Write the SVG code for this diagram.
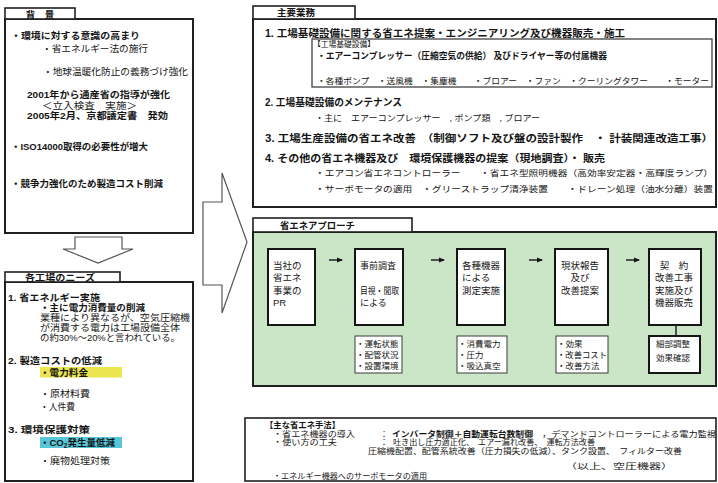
<svg xmlns="http://www.w3.org/2000/svg" width="718" height="483" viewBox="0 0 718 483" font-size="10">
<defs>
<style>
text{font-family:"Liberation Sans","Noto Sans CJK JP",sans-serif;fill:#151515}
.b{font-weight:bold}
.box{fill:#fff;stroke:#202020;stroke-width:2}
.tab{fill:#fff;stroke:#202020;stroke-width:1.6}
.fb{fill:#fff;stroke:#151515;stroke-width:2}
.sb{fill:#fff;stroke:#3a3a3a;stroke-width:1}
.big{fill:#fff;stroke:#555;stroke-width:1.2}
.con{stroke:#151515;stroke-width:1.4;fill:none}
</style>
<marker id="ah" markerWidth="6" markerHeight="6" refX="5" refY="3" orient="auto" markerUnits="userSpaceOnUse">
<path d="M0,0.5 L6,3 L0,5.5 Z" fill="#151515"/>
</marker>
</defs>
<rect width="718" height="483" fill="#fff"/>

<g id="haikei">
<rect class="box" x="5" y="19" width="188" height="214"/>
<rect class="tab" x="5" y="8" width="70" height="11"/>
<text class="b" x="40" y="17.5" font-size="9.5" text-anchor="middle">背　景</text>
<text class="b" x="11" y="38.5" font-size="9.5" textLength="129" lengthAdjust="spacingAndGlyphs">・環境に対する意識の高まり</text>
<text x="42" y="52" font-size="9.5" textLength="106" lengthAdjust="spacingAndGlyphs">・省エネルギー法の施行</text>
<text x="43" y="74.5" font-size="9.5" textLength="145" lengthAdjust="spacingAndGlyphs">・地球温暖化防止の義務づけ強化</text>
<text class="b" x="27" y="98" font-size="9.5" textLength="143" lengthAdjust="spacingAndGlyphs">2001年から通産省の指導が強化</text>
<text x="42" y="108.5" font-size="9.5" textLength="95" lengthAdjust="spacingAndGlyphs">＜立入検査　実施＞</text>
<text class="b" x="27" y="118.5" font-size="9.5" textLength="141" lengthAdjust="spacingAndGlyphs">2005年2月、京都議定書　発効</text>
<text class="b" x="11" y="149.5" font-size="9.5" textLength="137" lengthAdjust="spacingAndGlyphs">・ISO14000取得の必要性が増大</text>
<text class="b" x="11" y="186.5" font-size="9.5" textLength="152" lengthAdjust="spacingAndGlyphs">・競争力強化のため製造コスト削減</text>
</g>

<g id="down-arrow">
<polygon class="big" points="75,237 122,237 122,249 133,249 98,263 63,249 75,249"/>
</g>

<g id="needs">
<rect class="box" x="5" y="282" width="188" height="199"/>
<rect class="tab" x="5" y="272" width="115" height="10"/>
<text class="b" x="25" y="280.5" font-size="9" textLength="70" lengthAdjust="spacingAndGlyphs">各工場のニーズ</text>
<text class="b" x="8" y="300.5" font-size="9.5" textLength="92" lengthAdjust="spacingAndGlyphs">1. 省エネルギー実施</text>
<text class="b" x="40" y="311" font-size="9.5" textLength="105" lengthAdjust="spacingAndGlyphs">・主に電力消費量の削減</text>
<text x="40" y="321" font-size="9" textLength="150" lengthAdjust="spacingAndGlyphs">業種により異なるが、空気圧縮機</text>
<text x="40" y="331" font-size="9" textLength="140" lengthAdjust="spacingAndGlyphs">が消費する電力は工場設備全体</text>
<text x="40" y="341" font-size="9" textLength="140" lengthAdjust="spacingAndGlyphs">の約30%～20%と言われている。</text>
<text class="b" x="8" y="363.5" font-size="9.5" textLength="94" lengthAdjust="spacingAndGlyphs">2. 製造コストの低減</text>
<rect x="40" y="367" width="82" height="10.5" fill="#ece64e"/>
<text class="b" x="40" y="375.5" font-size="9.5" textLength="48" lengthAdjust="spacingAndGlyphs">・電力料金</text>
<text x="40" y="396.5" font-size="9.5" textLength="50" lengthAdjust="spacingAndGlyphs">・原材料費</text>
<text x="40" y="409.5" font-size="9.5" textLength="35" lengthAdjust="spacingAndGlyphs">・人件費</text>
<text class="b" x="8" y="432.5" font-size="9.5" textLength="82" lengthAdjust="spacingAndGlyphs">3. 環境保護対策</text>
<rect x="40" y="437" width="82" height="11" fill="#56c6d8"/>
<text class="b" x="40" y="446" font-size="9.5">・CO<tspan font-size="6.5" dy="2">2</tspan><tspan dy="-2">発生量低減</tspan></text>
<text x="40" y="463.5" font-size="9.5" textLength="70" lengthAdjust="spacingAndGlyphs">・廃物処理対策</text>
</g>

<g id="right-arrow">
<polygon class="big" points="203,202 222,202 222,173 247,242 222,313 222,285 203,285"/>
</g>

<g id="shuyo">
<rect class="box" x="253" y="19" width="463" height="188"/>
<rect class="tab" x="253" y="6" width="102" height="13"/>
<text class="b" x="277" y="16" font-size="9.5" textLength="38" lengthAdjust="spacingAndGlyphs">主要業務</text>
<text class="b" x="265" y="36.5" font-size="10" textLength="360" lengthAdjust="spacingAndGlyphs">1. 工場基礎設備に関する省エネ提案・エンジニアリング及び機器販売・施工</text>
<rect x="312" y="39" width="400" height="48" fill="#fff" stroke="#333" stroke-width="1.2"/>
<text x="313" y="46.5" font-size="7.5" textLength="62" lengthAdjust="spacingAndGlyphs">【工場基礎設備】</text>
<text class="b" x="317" y="58.5" font-size="9" textLength="290" lengthAdjust="spacingAndGlyphs">・エアーコンプレッサー（圧縮空気の供給） 及びドライヤー等の付属機器</text>
<text x="317" y="84" font-size="8.5" textLength="392" lengthAdjust="spacingAndGlyphs">・各種ポンプ　・送風機　・集塵機　　・ブロアー　・ファン　・クーリングタワー　　・モーター</text>
<text class="b" x="265" y="106" font-size="10" textLength="137" lengthAdjust="spacingAndGlyphs">2. 工場基礎設備のメンテナンス</text>
<text x="315" y="120.5" font-size="8.5" textLength="225" lengthAdjust="spacingAndGlyphs">・主に　エアーコンプレッサー　, ポンプ類　, ブロアー</text>
<text class="b" x="265" y="141.5" font-size="10" textLength="448" lengthAdjust="spacingAndGlyphs">3. 工場生産設備の省エネ改善　（制御ソフト及び盤の設計製作　・ 計装関連改造工事）</text>
<text class="b" x="265" y="161.5" font-size="10" textLength="340" lengthAdjust="spacingAndGlyphs">4. その他の省エネ機器及び　環境保護機器の提案（現地調査）・ 販売</text>
<text x="315" y="175.5" font-size="8.5" textLength="398" lengthAdjust="spacingAndGlyphs">・エアコン省エネコントローラー　　・省エネ型照明機器（高効率安定器・高輝度ランプ）</text>
<text x="315" y="191.5" font-size="8.5" textLength="398" lengthAdjust="spacingAndGlyphs">・サーボモータの適用　・グリーストラップ清浄装置　　・ドレーン処理（油水分離）装置</text>
</g>

<g id="approach">
<rect x="253" y="232" width="463" height="154" fill="#cbe6c6" stroke="#202020" stroke-width="2"/>
<rect class="tab" x="253" y="218" width="159" height="14"/>
<text class="b" x="280" y="229" font-size="9.5" textLength="75" lengthAdjust="spacingAndGlyphs">省エネアプローチ</text>
</g>

<g id="step1">
<rect class="fb" x="268" y="249" width="47" height="76"/>
<text x="273" y="268.5" font-size="9.5">当社の</text>
<text x="273" y="281" font-size="9.5">省エネ</text>
<text x="273" y="293.5" font-size="9.5">事業の</text>
<text x="273" y="306" font-size="9.5">PR</text>
</g>
<g id="step2">
<rect class="fb" x="355" y="249" width="48" height="76"/>
<text x="360" y="268.5" font-size="9">事前調査</text>
<text x="360" y="293.5" font-size="9" textLength="39" lengthAdjust="spacingAndGlyphs">目視・聞取</text>
<text x="360" y="306" font-size="9">による</text>
</g>
<g id="step3">
<rect class="fb" x="457" y="249" width="48" height="76"/>
<text x="462" y="268.5" font-size="9.5">各種機器</text>
<text x="462" y="281" font-size="9.5">による</text>
<text x="462" y="293.5" font-size="9.5">測定実施</text>
</g>
<g id="step4">
<rect class="fb" x="555" y="249" width="53" height="76"/>
<text x="580" y="268.5" font-size="9.5" text-anchor="middle">現状報告</text>
<text x="580" y="281" font-size="9.5" text-anchor="middle">及び</text>
<text x="580" y="293.5" font-size="9.5" text-anchor="middle">改善提案</text>
</g>
<g id="step5">
<rect class="fb" x="649" y="249" width="52" height="76"/>
<text x="674" y="268.5" font-size="9.5" text-anchor="middle">契　約</text>
<text x="674" y="281" font-size="9.5" text-anchor="middle">改善工事</text>
<text x="674" y="293.5" font-size="9.5" text-anchor="middle">実施及び</text>
<text x="674" y="306" font-size="9.5" text-anchor="middle">機器販売</text>
</g>

<g id="sub2">
<rect class="sb" x="355" y="336" width="47" height="37"/>
<text x="356" y="346.5" font-size="8.5">・運転状態</text>
<text x="356" y="357.5" font-size="8.5">・配管状況</text>
<text x="356" y="368.5" font-size="8.5">・設置環境</text>
</g>
<g id="sub3">
<rect class="sb" x="457" y="336" width="50" height="37"/>
<text x="458" y="346.5" font-size="8.5">・消費電力</text>
<text x="458" y="357.5" font-size="8.5">・圧力</text>
<text x="458" y="368.5" font-size="8.5">・吸込真空</text>
</g>
<g id="sub4">
<rect class="sb" x="556" y="336" width="52" height="37"/>
<text x="557" y="346.5" font-size="8.5">・効果</text>
<text x="557" y="357.5" font-size="8.5" textLength="50" lengthAdjust="spacingAndGlyphs">・改善コスト</text>
<text x="557" y="368.5" font-size="8.5">・改善方法</text>
</g>
<g id="sub5">
<rect class="fb" x="649" y="336" width="51" height="37"/>
<text x="673" y="347" font-size="8.5" text-anchor="middle">細部調整</text>
<text x="673" y="360.5" font-size="8.5" text-anchor="middle">効果確認</text>
</g>

<g id="connectors">
<line class="con" x1="329" y1="260" x2="342" y2="260" marker-end="url(#ah)"/>
<line class="con" x1="431" y1="260" x2="444" y2="260" marker-end="url(#ah)"/>
<line class="con" x1="529" y1="260" x2="542" y2="260" marker-end="url(#ah)"/>
<line class="con" x1="626" y1="260" x2="639" y2="260" marker-end="url(#ah)"/>
<line class="con" x1="676" y1="325" x2="676" y2="336"/>
</g>

<g id="methods">
<rect x="245" y="418" width="471" height="63" fill="#fff" stroke="#202020" stroke-width="1.6"/>
<text class="b" x="265" y="427.5" font-size="8.5" textLength="75" lengthAdjust="spacingAndGlyphs">【主な省エネ手法】</text>
<text x="273" y="436.5" font-size="8" textLength="82" lengthAdjust="spacingAndGlyphs">・省エネ機器の導入</text>
<text x="380" y="436.5" font-size="8">：</text>
<text class="b" x="392" y="436.5" font-size="8" textLength="141" lengthAdjust="spacingAndGlyphs">インバータ制御＋自動運転台数制御</text>
<text x="542" y="436.5" font-size="8" textLength="174" lengthAdjust="spacingAndGlyphs">，デマンドコントローラーによる電力監視</text>
<text x="273" y="445" font-size="8" textLength="64" lengthAdjust="spacingAndGlyphs">・使い方の工夫</text>
<text x="380" y="445" font-size="8">：</text>
<text x="393" y="445" font-size="8" textLength="202" lengthAdjust="spacingAndGlyphs">吐き出し圧力適正化、　エアー漏れ改善、　運転方法改善</text>
<text x="368" y="454" font-size="8" textLength="314" lengthAdjust="spacingAndGlyphs">圧縮機配置、配管系統改善（圧力損失の低減）、タンク設置、　フィルター改善</text>
<text x="565" y="468.5" font-size="8" textLength="108" lengthAdjust="spacingAndGlyphs">（以上、空圧機器）</text>
<text x="273" y="479" font-size="8" textLength="154" lengthAdjust="spacingAndGlyphs">・エネルギー機器へのサーボモータの適用</text>
</g>
</svg>
